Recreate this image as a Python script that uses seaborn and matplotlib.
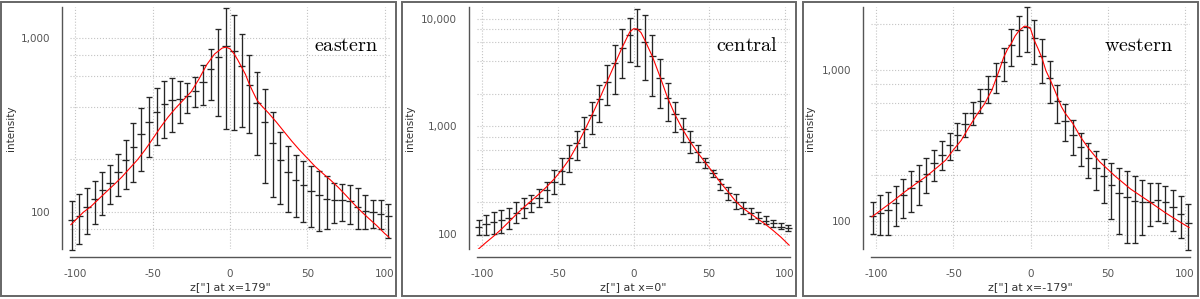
import matplotlib
matplotlib.use("Agg")
import matplotlib.pyplot as plt
from matplotlib.patches import Rectangle
from matplotlib.ticker import FixedLocator, FuncFormatter, MultipleLocator, NullFormatter
import seaborn as sns

sns.set_style("white")
plt.rcParams["font.family"] = ["DejaVu Sans"]
plt.rcParams["axes.unicode_minus"] = False
plt.rcParams["mathtext.fontset"] = "cm"

# ---------------------------------------------------------
# data
# ---------------------------------------------------------
z_bins = [-102.5, -97.5, -92.5, -87.5, -82.5, -77.5, -72.5, -67.5, -62.5, -57.5,
          -52.5, -47.5, -42.5, -37.5, -32.5, -27.5, -22.5, -17.5, -12.5, -7.5,
          -2.5, 2.5, 7.5, 12.5, 17.5, 22.5, 27.5, 32.5, 37.5, 42.5,
          47.5, 52.5, 57.5, 62.5, 67.5, 72.5, 77.5, 82.5, 87.5, 92.5,
          97.5, 102.5]
z_half = 2.4

# eastern
east_mid = [89, 95, 106, 119, 133, 147, 169, 197, 236, 281,
            328, 374, 416, 436, 442, 464, 496, 553, 658, 778,
            899, 834, 684, 532, 421, 326, 248, 199, 169, 153,
            143, 132, 124, 119, 116, 116, 115, 107, 101, 99,
            97, 94]
east_hi = [115, 126, 137, 151, 168, 186, 215, 259, 323, 394,
           454, 514, 561, 587, 566, 546, 591, 700, 865, 1122,
           1482, 1356, 1050, 791, 632, 507, 374, 286, 237, 213,
           196, 182, 171, 160, 147, 144, 143, 137, 124, 117,
           116, 111]
east_lo = [60.5, 65, 74, 85, 96, 110, 123, 135, 148, 171,
           205, 240, 265, 287, 323, 369, 398, 412, 440, 353,
           300, 296, 307, 283, 213, 146, 121, 111, 100, 93,
           87, 82, 77, 79, 86, 88, 85, 80, 79, 81,
           80, 71]
east_fit_z = [-103, -95, -90, -85, -80, -75, -70, -65, -60, -55, -50, -45, -40,
              -35, -30, -25, -20, -15, -10, -5, -2.5, 0, 2.5, 5, 10, 12.5, 15,
              17.5, 20, 25, 30, 35, 40, 45, 50, 55, 60, 65, 70, 75, 80, 85, 90,
              95, 100, 103]
east_fit = [84, 99, 107, 118, 130, 143, 158, 177, 198, 226, 262, 305, 350,
            395, 440, 490, 580, 700, 805, 872, 882, 862, 810, 745, 615, 540, 485,
            437, 410, 368, 327, 288, 254, 226, 203, 182, 166, 152, 138, 124, 111,
            100, 91, 83, 75, 71]

# central
cent_mid = [118, 124, 129, 136, 143, 156, 176, 194, 218, 257,
            307, 388, 512, 696, 938, 1273, 1778, 2555, 3878, 5383,
            7000, 7960, 6070, 4505, 2818, 1817, 1291, 944, 720, 582,
            464, 367, 292, 240, 200, 174, 156, 141, 133, 126,
            117.5, 114]
cent_hi = [136, 151, 160, 168, 176, 200, 218, 231, 263, 307,
           394, 505, 671, 904, 1227, 1690, 2412, 3696, 5662, 8078,
           10100, 12380, 10740, 7110, 4198, 2535, 1690, 1202, 904, 671,
           512, 394, 323, 276, 235, 200, 176, 160, 148, 136,
           126, 122]
cent_lo = [98.5, 98.5, 100, 103.5, 112, 126, 141, 162, 178, 200,
           235, 290, 375, 488, 647, 849, 1104, 1574, 1978, 2819,
           3940, 3615, 2684, 1920, 1468, 1119, 891, 720, 562, 470,
           408, 341, 257, 208, 171, 153, 139, 126, 124, 117.5,
           112, 107]
cent_fit_z = [-103, -97.5, -92.5, -87.5, -82.5, -77.5, -72.5, -67.5, -62.5,
              -57.5, -52.5, -47.5, -42.5, -37.5, -32.5, -27.5, -22.5, -17.5,
              -12.5, -7.5, -2.5, 0, 2.5, 5, 7.5, 12.5, 17.5, 22.5, 27.5, 32.5,
              37.5, 42.5, 47.5, 52.5, 57.5, 62.5, 67.5, 72.5, 77.5, 82.5, 87.5,
              92.5, 97.5, 103]
cent_fit = [72, 84, 96, 111, 130, 153, 178, 205, 236,
            275, 325, 395, 495, 660, 910, 1270, 1800, 2600,
            3750, 5400, 7500, 8050, 8000, 7400, 6300, 4450, 2900, 1850, 1280, 940,
            720, 570, 462, 375, 302, 248, 203, 174, 155, 138, 123,
            108, 94, 79]

# western
west_mid = [108, 112.5, 118, 131, 147, 165, 184, 204, 241, 274,
            319, 371, 439, 517, 623, 748, 903, 1125, 1449, 1841,
            1926, 1618, 1225, 881, 617, 459, 371, 310, 260, 225,
            197, 173, 153, 143, 136, 134, 134, 138, 133, 123,
            111, 96.5]
west_hi = [134, 147, 156, 169, 189, 212, 235, 262, 295, 335,
           381, 444, 517, 607, 745, 912, 1108, 1392, 1861, 2278,
           2585, 2120, 1604, 1147, 795, 595, 467, 381, 327, 288,
           257, 241, 225, 212, 197, 187, 179, 178, 169, 160,
           145, 129]
west_lo = [82, 80, 81, 92, 104, 115, 128, 153, 182, 218,
           253, 295, 356, 428, 517, 602, 701, 845, 1052, 1238,
           1316, 1091, 816, 598, 444, 339, 274, 232, 192, 160,
           131, 103, 82, 71, 71, 81, 93, 99, 97, 86,
           77, 64]
west_fit_z = [-103, -95, -90, -82.5, -75, -67.5, -60, -55, -50, -45, -40, -35,
              -30, -25, -20, -17.5, -15, -12.5, -10, -7.5, -4, -2.5, 0, 2.5, 5,
              7.5, 10, 12.5, 15, 17.5, 20, 22.5, 27.5, 32.5, 37.5, 45, 55, 65,
              77.5, 87.5, 95, 103]
west_fit = [106, 122, 133, 153, 174, 197, 228, 252, 295, 340, 415, 500,
            590, 735, 1010, 1200, 1360, 1490, 1670, 1810, 1940, 1935, 1870, 1560, 1370,
            1190, 985, 870, 760, 660, 570, 515, 440, 358, 303, 245, 197, 162,
            133, 113, 101, 90]

y_major = [100, 1000, 10000]

panels = [
    dict(name="eastern", mid=east_mid, hi=east_hi, lo=east_lo,
         fz=east_fit_z, fv=east_fit, xlabel='z["] at x=179"',
         ylim=(61, 1500), minor=[80, 200, 400, 600, 800],
         frame=(1, 396), axx=(70, 390), tx=0.9625, ylx=-0.17),
    dict(name="central", mid=cent_mid, hi=cent_hi, lo=cent_lo,
         fz=cent_fit_z, fv=cent_fit, xlabel='z["] at x=0"',
         ylim=(73, 12800), minor=[80, 200, 400, 600, 800, 2000, 4000, 6000, 8000],
         frame=(402, 796), axx=(477, 790), tx=0.962, ylx=-0.198),
    dict(name="western", mid=west_mid, hi=west_hi, lo=west_lo,
         fz=west_fit_z, fv=west_fit, xlabel='z["] at x=-179"',
         ylim=(65, 2600), minor=[80, 200, 400, 600, 800, 2000],
         frame=(803, 1198), axx=(871, 1190), tx=0.947, ylx=-0.176),
]

W, H = 1200, 299
fig = plt.figure(figsize=(12, 2.99), dpi=100)
grey = "#555555"

for p in panels:
    f0, f1 = p["frame"]
    fig.patches.append(Rectangle((f0 / W, 3 / H), (f1 - f0) / W, 294 / H,
                                 transform=fig.transFigure, fill=False,
                                 edgecolor="#666666", linewidth=1.4))

    x0, x1 = p["axx"]
    ax = fig.add_axes([x0 / W, (H - 249) / H, (x1 - x0) / W, 242 / H])
    ax.set_facecolor("none")

    yerr = [[m - l for m, l in zip(p["mid"], p["lo"])],
            [h - m for m, h in zip(p["mid"], p["hi"])]]
    ax.errorbar(z_bins, p["mid"], yerr=yerr, fmt="none", ecolor="#262626",
                elinewidth=0.95, capsize=1.9, capthick=0.95, clip_on=False, zorder=2)
    ax.errorbar(z_bins, p["mid"], xerr=z_half, fmt="none", ecolor="#262626",
                elinewidth=0.95, capsize=0, clip_on=False, zorder=2)
    sns.lineplot(x=p["fz"], y=p["fv"], ax=ax, color="red", linewidth=0.8,
                 zorder=3)

    ax.set_yscale("log")
    ax.set_xlim(-103.5, 103.5)
    ax.set_ylim(*p["ylim"])
    ax.yaxis.set_major_locator(FixedLocator(y_major))
    ax.yaxis.set_major_formatter(FuncFormatter(lambda v, pos: f"{int(v):,}"))
    ax.yaxis.set_minor_locator(FixedLocator(p["minor"]))
    ax.yaxis.set_minor_formatter(NullFormatter())
    ax.xaxis.set_major_locator(FixedLocator([-100, -50, 0, 50, 100]))
    ax.xaxis.set_minor_locator(MultipleLocator(10))

    ax.grid(which="both", axis="y", linestyle=":", color="#c4c4c4", linewidth=0.8)
    ax.grid(which="major", axis="x", linestyle=":", color="#c4c4c4", linewidth=0.8)
    ax.set_axisbelow(True)

    for s in ["top", "right"]:
        ax.spines[s].set_visible(False)
    for s in ["left", "bottom"]:
        ax.spines[s].set_position(("outward", 5.8))
        ax.spines[s].set_color(grey)
        ax.spines[s].set_linewidth(1.0)

    ax.tick_params(which="major", direction="out", length=3, width=0.8,
                   color=grey, labelsize=7.5, labelcolor=grey)
    ax.tick_params(which="minor", direction="out", length=2, width=0.8, color=grey)
    ax.tick_params(axis="y", which="major", pad=5.5)
    ax.tick_params(axis="x", which="major", pad=5.5)

    ax.set_xlabel(p["xlabel"], fontsize=8, color="#333333")
    ax.xaxis.set_label_coords(0.5, -0.135)
    ax.set_ylabel("intensity", fontsize=7.5, color="#333333")
    ax.yaxis.set_label_coords(p["ylx"], 0.5)

    ax.text(p["tx"], 0.82, r"$\mathrm{" + p["name"] + "}$", transform=ax.transAxes,
            ha="right", va="baseline", fontsize=14.5, color="black")

fig.savefig("out.png", dpi=100)
